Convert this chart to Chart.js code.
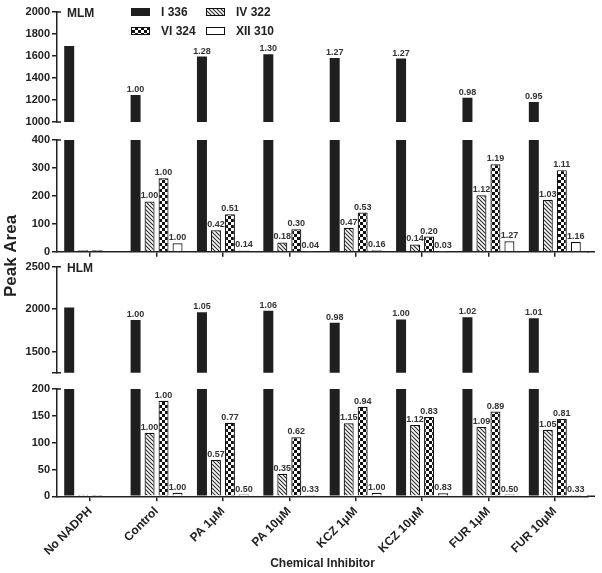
<!DOCTYPE html>
<html><head><meta charset="utf-8">
<script src="https://cdn.jsdelivr.net/npm/chart.js@4.4.1/dist/chart.umd.min.js"></script>
<style>
html,body{margin:0;padding:0;background:#fff;}
#wrap{position:relative;width:602px;height:573px;overflow:hidden;background:#fff;}
#wrap canvas{position:absolute;left:0;top:0;}
</style></head><body>
<div id="wrap">
<canvas id="c1" width="602" height="573"></canvas>
<canvas id="c2" width="602" height="573"></canvas>
<canvas id="c3" width="602" height="573"></canvas>
<canvas id="c4" width="602" height="573"></canvas>
</div>
<script>
// ---------- data ----------
const categories = ["No NADPH","Control","PA 1\u03bcM","PA 10\u03bcM","KCZ 1\u03bcM","KCZ 10\u03bcM","FUR 1\u03bcM","FUR 10\u03bcM"];
const seriesNames = ["I 336","IV 322","VI 324","XII 310"];

const mlmI   = [1690,1245,1595,1615,1582,1577,1220,1182];
const mlmIV  = [5,180,77,33,86,26,202,185];
const mlmVI  = [5,263,134,80,140,54,313,292];
const mlmXII = [0,30,4.5,1.2,4.8,1,37,35];
const mlmRatioI   = ["","1.00","1.28","1.30","1.27","1.27","0.98","0.95"];
const mlmRatioIV  = ["","1.00","0.42","0.18","0.47","0.14","1.12","1.03"];
const mlmRatioVI  = ["","1.00","0.51","0.30","0.53","0.20","1.19","1.11"];
const mlmRatioXII = ["","1.00","0.14","0.04","0.16","0.03","1.27","1.16"];

const hlmI   = [2020,1870,1962,1980,1838,1878,1905,1893];
const hlmIV  = [3,118.5,67.5,42,136,133,129,124];
const hlmVI  = [2.5,178,137,110,167,148,158,144];
const hlmXII = [0,6.7,3.3,2.2,6.7,5.6,3.3,2.2];
const hlmRatioI   = ["","1.00","1.05","1.06","0.98","1.00","1.02","1.01"];
const hlmRatioIV  = ["","1.00","0.57","0.35","1.15","1.12","1.09","1.05"];
const hlmRatioVI  = ["","1.00","0.77","0.62","0.94","0.83","0.89","0.81"];
const hlmRatioXII = ["","1.00","0.50","0.33","1.00","0.83","0.50","0.33"];

const mlmUpperTicks = [1000,1200,1400,1600,1800,2000];
const mlmLowerTicks = [0,100,200,300,400];
const hlmUpperTicks = [1250,1500,2000,2500];
const hlmLowerTicks = [0,50,100,150,200];
const hiddenTickLabels = [1250];

// ---------- styling ----------
const FONT = "'Liberation Sans', Arial, Helvetica, sans-serif";
Chart.defaults.font.family = FONT;
Chart.defaults.color = '#222';
const INK = '#1f1f1f';
const AXIS_X = 57, RIGHT = 588, AXIS_END = 595;

function makeHatch(){
  const c=document.createElement('canvas'); c.width=4; c.height=4;
  const g=c.getContext('2d');
  g.fillStyle='#fff'; g.fillRect(0,0,4,4);
  g.strokeStyle='#2a2a2a'; g.lineWidth=1.1;
  g.beginPath();
  g.moveTo(-1,-1); g.lineTo(5,5);
  g.moveTo(-1,3); g.lineTo(1,5);
  g.moveTo(3,-1); g.lineTo(5,1);
  g.stroke();
  return g.createPattern(c,'repeat');
}
function makeChecker(){
  const c=document.createElement('canvas'); c.width=6; c.height=6;
  const g=c.getContext('2d');
  g.fillStyle='#fff'; g.fillRect(0,0,6,6);
  g.fillStyle='#111'; g.fillRect(0,0,3,3); g.fillRect(3,3,3,3);
  return g.createPattern(c,'repeat');
}
const fills = [INK, makeHatch(), makeChecker(), '#ffffff'];

function buildDatasets(vals, ratios, upper){
  return seriesNames.map((name,i)=>({
    label: name,
    data: upper ? (i===0 ? vals[0] : vals[i].map(()=>null)) : vals[i],
    ratios: upper ? (i===0 ? ratios[0] : null) : (i===0 ? null : ratios[i]),
    backgroundColor: fills[i],
    borderColor: i===0 ? INK : '#111',
    borderWidth: i===0 ? 0 : 1.2,
    borderSkipped: 'start',
    categoryPercentage: 0.843,
    barPercentage: 0.714,
    clip: 0
  }));
}

// ---------- plugins ----------
const ratioLabels = {
  id:'ratioLabels',
  afterDatasetsDraw(chart){
    const ctx=chart.ctx; ctx.save();
    ctx.font='bold 9px '+FONT; ctx.fillStyle='#333';
    ctx.textAlign='center'; ctx.textBaseline='alphabetic';
    chart.data.datasets.forEach((ds,i)=>{
      if(!ds.ratios) return;
      chart.getDatasetMeta(i).data.forEach((bar,j)=>{
        const t=ds.ratios[j]; if(!t) return;
        ctx.fillText(t, bar.x, bar.y-3);
      });
    });
    ctx.restore();
  }
};
const axisDecor = {
  id:'axisDecor',
  afterDraw(chart, args, opts){
    const ctx=chart.ctx, a=chart.chartArea; ctx.save();
    ctx.strokeStyle='#222'; ctx.lineWidth=1.5;
    ctx.beginPath();
    ctx.moveTo(a.left-1, a.top); ctx.lineTo(a.left+4, a.top);
    if(opts.upper){ ctx.moveTo(a.left-1, a.bottom); ctx.lineTo(a.left+4, a.bottom); }
    if(opts.baseline){ ctx.moveTo(a.right-1, a.bottom); ctx.lineTo(AXIS_END, a.bottom); }
    ctx.stroke();
    ctx.fillStyle='#222';
    if(opts.panel){
      ctx.font='bold 12px '+FONT; ctx.textAlign='left'; ctx.textBaseline='middle';
      ctx.fillText(opts.panel, a.left+10, a.top+2);
    }
    ctx.restore();
  }
};
const pageDecor = {
  id:'pageDecor',
  afterDraw(chart){
    const ctx=chart.ctx; ctx.save();
    // y title
    ctx.fillStyle='#222';
    ctx.font='bold 17px '+FONT;
    ctx.translate(11, 256); ctx.rotate(-Math.PI/2);
    ctx.textAlign='center'; ctx.textBaseline='middle';
    ctx.fillText('Peak Area', 0, 0);
    ctx.setTransform(1,0,0,1,0,0);
    // legend (2 columns)
    const cols=[131,206], rows=[8,27];
    ctx.font='bold 12px '+FONT; ctx.textAlign='left'; ctx.textBaseline='middle';
    chart.data.datasets.forEach((ds,i)=>{
      const x=cols[i%2], y=rows[Math.floor(i/2)];
      ctx.fillStyle=ds.backgroundColor; ctx.fillRect(x,y,19,8);
      if(i>0){ ctx.strokeStyle='#111'; ctx.lineWidth=1; ctx.strokeRect(x+0.5,y+0.5,18,7); }
      ctx.fillStyle='#222';
      ctx.fillText(ds.label, x+30, y+4.5);
    });
    ctx.restore();
  }
};

// ---------- chart factory ----------
function makeChart(id, o){
  const yTicks = o.ticks;
  return new Chart(document.getElementById(id), {
    type:'bar',
    data:{ labels: categories, datasets: buildDatasets(o.vals, o.ratios, o.upper) },
    plugins:[ratioLabels, axisDecor].concat(o.extra||[]),
    options:{
      responsive:false, animation:false, devicePixelRatio:1,
      layout:{ padding:{ left:0, right:602-RIGHT, top:o.top, bottom:o.bottom } },
      plugins:{ legend:{display:false}, tooltip:{enabled:false},
        axisDecor:{ upper:o.upper, baseline:!o.upper, panel:o.panel } },
      scales:{
        x:{
          display: !o.upper,
          offset:true,
          grid:{ display:true, drawOnChartArea:false, drawTicks:true, tickLength:5, offset:false, color:'#222', lineWidth:1.5 },
          border:{ display:true, color:'#222', width:1.5 },
          ticks:{ display: !!o.xLabels, autoSkip:false, maxRotation:45, minRotation:45, padding:3,
                  font:{ size:12, weight:'bold' }, color:'#222' },
          title:{ display: !!o.xLabels, text:'Chemical Inhibitor', font:{ size:12, weight:'bold' }, color:'#222',
                  padding:{ top:2, bottom:2 } },
          afterFit(s){ s.height = o.xHeight; }
        },
        y:{
          min: yTicks[0], max: yTicks[yTicks.length-1],
          afterBuildTicks(s){ s.ticks = yTicks.map(v=>({value:v})); },
          grid:{ display:true, drawOnChartArea:false, drawTicks:true, tickLength:5, color:'#222', lineWidth:1.5 },
          border:{ display:true, color:'#222', width:1.5 },
          ticks:{ padding:2, font:{ size:11, weight:'bold' }, color:'#222',
                  callback:(v)=> hiddenTickLabels.includes(v) ? '' : String(v) },
          afterFit(s){ s.width = AXIS_X; }
        }
      }
    }
  });
}

makeChart('c1', { vals:[mlmI,mlmIV,mlmVI,mlmXII], ratios:[mlmRatioI,mlmRatioIV,mlmRatioVI,mlmRatioXII],
  upper:true, ticks:mlmUpperTicks, top:12, bottom:573-122, xHeight:0, panel:'MLM', extra:[pageDecor] });
makeChart('c2', { vals:[mlmI,mlmIV,mlmVI,mlmXII], ratios:[mlmRatioI,mlmRatioIV,mlmRatioVI,mlmRatioXII],
  upper:false, ticks:mlmLowerTicks, top:140, bottom:573-251.7-6, xHeight:6 });
makeChart('c3', { vals:[hlmI,hlmIV,hlmVI,hlmXII], ratios:[hlmRatioI,hlmRatioIV,hlmRatioVI,hlmRatioXII],
  upper:true, ticks:hlmUpperTicks, top:266.7, bottom:573-372.7, xHeight:0, panel:'HLM' });
makeChart('c4', { vals:[hlmI,hlmIV,hlmVI,hlmXII], ratios:[hlmRatioI,hlmRatioIV,hlmRatioVI,hlmRatioXII],
  upper:false, ticks:hlmLowerTicks, top:389, bottom:0, xHeight:573-496.3, xLabels:true });
</script>
</body></html>
